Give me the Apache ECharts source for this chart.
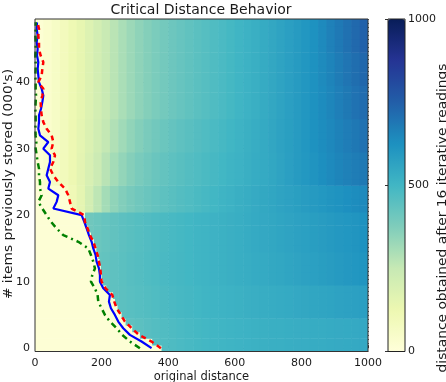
<!DOCTYPE html>
<html><head><meta charset="utf-8">
<script src="https://cdn.jsdelivr.net/npm/echarts@6/dist/echarts.min.js"></script>
<style>html,body{margin:0;padding:0;background:#fff}#c{width:446px;height:382px}</style>
</head><body><div id="c"></div>
<script>
// ---- data ----
const rows = [0,1,2,3,4,5,6,7,8,9,10,11,12,13,14,15,16,17,18,19,20,21,22,23,24,25,26,27,28,29,30,31,32,33,34,35,36,37,38,39,40,41,42,43,44,45,46,47,48,49];
const blueDist  = [350,320,285,265,250,240,228,222,225,205,195,195,192,185,182,175,170,162,155,148,140,55,65,70,40,45,35,40,45,45,25,40,15,10,12,12,18,22,25,20,12,10,8,10,6,8,5,8,5,6];
const redDist   = [378,350,312,290,270,258,245,238,232,212,200,198,196,192,188,182,175,165,158,150,148,110,105,100,90,70,55,45,55,60,50,55,50,35,25,20,18,17,22,25,10,20,22,25,17,12,12,10,12,8];
const greenDist = [315,285,262,245,225,210,200,190,188,180,168,172,180,175,168,160,130,85,65,48,35,22,10,20,15,15,12,12,8,5,2,4,2,1,2,2,1,2,3,2,2,1,2,2,1,2,2,1,2,2];
// where the pale (near-zero) region ends in each row of the heat map
const paleEdge  = [380,352,315,292,272,260,248,240,234,214,204,200,198,194,190,184,177,168,160,152,150,110,105,100,90,0,0,0,0,0,0,0,0,0,0,0,0,0,0,0,0,0,0,0,0,0,0,0,0,0];
const paleValue = 12;
// heat map column starts (original distance, width 25); row bands and their values right of the pale edge
const colStarts = [0,25,50,75,100,125,150,175,200,225,250,275,300,325,350,375,400,425,450,475,500,525,550,575,600,625,650,675,700,725,750,775,800,825,850,875,900,925,950,975];
const colWidth = 25;
const bandFirstRow = [0,5,10,15,21,25,30,35,40,45];
const bandValues = [
  [430,430,430,430,430,430,430,430,430,430,430,438,446,454,461,468,474,480,486,491,496,500,504,508,511,514,517,520,523,525,527,529,531,533,535,537,539,541,543,546],
  [435,435,435,435,435,435,435,435,435,440,446,452,458,464,470,476,482,487,492,497,502,506,510,514,518,522,526,530,534,538,542,546,550,554,558,562,566,570,574,578],
  [425,425,425,425,425,425,425,425,432,440,448,455,462,469,475,481,487,492,497,502,507,512,517,522,527,532,537,542,547,552,558,564,570,576,582,588,594,600,606,612],
  [405,405,405,405,405,405,405,415,425,434,443,451,459,466,473,479,485,491,497,502,507,512,517,522,528,534,540,546,552,558,564,570,576,582,588,594,600,606,612,620],
  [20,35,50,70,105,150,210,265,310,345,370,390,405,418,430,441,451,461,470,479,488,497,506,515,523,531,539,547,555,563,571,579,587,595,603,611,619,627,634,642],
  [20,40,62,90,120,155,195,235,275,310,340,365,385,402,417,430,441,451,461,470,479,488,497,506,515,524,533,542,551,564,577,590,603,616,629,642,654,665,675,685],
  [18,38,60,88,118,150,185,220,255,288,318,344,366,385,401,415,428,439,450,460,470,480,490,500,510,520,531,542,553,566,579,592,606,620,634,648,661,674,687,700],
  [18,38,60,86,115,145,178,210,242,272,300,325,347,366,383,398,412,424,436,447,458,469,480,491,502,513,525,537,550,563,577,591,606,621,637,653,669,685,700,715],
  [18,38,60,86,115,145,178,210,242,272,300,325,347,366,383,398,412,424,436,447,458,469,480,491,502,513,525,537,550,563,577,591,606,622,640,658,676,694,711,728],
  [18,38,60,86,115,145,178,210,242,272,300,325,347,366,383,398,412,424,436,447,458,469,480,491,502,513,525,537,550,563,577,591,606,623,643,663,683,703,722,742]
];
const colorTicks = [0, 500, 1000];
const ylgnbu = ['#ffffd9','#edf8b1','#c7e9b4','#7fcdbb','#41b6c4','#1d91c0','#225ea8','#253494','#081d58'];

// ---- build cells ----
const bandOf = r => { let b = 0; bandFirstRow.forEach((s, k) => { if (r >= s) b = k; }); return b; };
const cells = [];
rows.forEach((r, i) => {
  const edge = paleEdge[i];
  if (edge > 0) cells.push([0, edge, r, paleValue]);
  const vals = bandValues[bandOf(r)];
  colStarts.forEach((s, c) => {
    const e = s + colWidth;
    if (e <= edge) return;
    cells.push([Math.max(s, edge), e, r, vals[c]]);
  });
});
const pairs = arr => arr.map((v, i) => [v, rows[i]]);

const FONT = 'DejaVu Sans';
const INK = '#1a1a1a';
const chart = echarts.init(document.getElementById('c'), null, {renderer: 'canvas'});
chart.setOption({
  animation: false,
  backgroundColor: '#fff',
  textStyle: {fontFamily: FONT},
  grid: [
    {left: 35, top: 19, width: 333, height: 332.5, outerBoundsMode: 'none', containLabel: false,
     show: true, borderColor: '#333', borderWidth: 1, backgroundColor: 'transparent', z: 5},
    {left: 388, top: 19, width: 17, height: 332.5, outerBoundsMode: 'none', containLabel: false,
     show: true, borderColor: '#222', borderWidth: 1, backgroundColor: 'transparent', z: 10}
  ],
  xAxis: [
    {gridIndex: 0, type: 'value', min: 0, max: 1000, interval: 200,
     name: 'original distance', nameLocation: 'middle', nameGap: 20, nameMoveOverlap: false,
     nameTextStyle: {fontFamily: FONT, fontSize: 11.5, color: INK},
     axisLine: {show: false}, axisTick: {show: true, inside: true, length: 3, lineStyle: {color: '#333'}},
     axisLabel: {fontFamily: FONT, fontSize: 11, color: INK, margin: 6, formatter: v => String(v)},
     splitLine: {show: true, lineStyle: {color: 'rgba(30,30,30,0.75)', type: [1, 3], width: 1}}},
    {gridIndex: 1, type: 'value', show: false, min: 0, max: 1}
  ],
  yAxis: [
    {gridIndex: 0, type: 'value', min: -0.5, max: 49.5, splitNumber: 5,
     axisLine: {show: false}, axisTick: {show: true, inside: true, length: 3, lineStyle: {color: '#333'}},
     axisLabel: {fontFamily: FONT, fontSize: 11, color: INK, margin: 5, showMinLabel: false, showMaxLabel: false, formatter: v => String(v)},
     splitLine: {show: true, lineStyle: {color: 'rgba(30,30,30,0.75)', type: [1, 3], width: 1}}},
    {gridIndex: 1, type: 'value', min: 0, max: 1000, interval: 500, position: 'right',
     axisLine: {show: false}, axisTick: {show: true, inside: true, length: 3, lineStyle: {color: '#333'}},
     axisLabel: {fontFamily: FONT, fontSize: 11, color: INK, margin: 3, formatter: v => colorTicks.includes(v) ? String(v) : ''},
     splitLine: {show: false}}
  ],
  visualMap: {
    type: 'continuous', min: 0, max: 1000, seriesIndex: 0, dimension: 3,
    calculable: false, show: true, left: 388, top: 19, itemWidth: 17, itemHeight: 332.5,
    padding: 0, text: null, showLabel: false, inRange: {color: ylgnbu}
  },
  graphic: [
    {type: 'text', x: 201, y: 10, z: 100,
     style: {text: 'Critical Distance Behavior', fontFamily: FONT, fontSize: 14, fill: INK, align: 'center', verticalAlign: 'middle'}},
    {type: 'text', x: 9, y: 184, rotation: Math.PI / 2, scaleX: 1.2, z: 100,
     style: {text: "# items previously stored (000's)", fontFamily: FONT, fontSize: 11.5, fill: INK, align: 'center', verticalAlign: 'middle'}},
    {type: 'text', x: 443.5, y: 218, rotation: Math.PI / 2, scaleX: 1.2, z: 100,
     style: {text: 'distance obtained after 16 iterative readings', fontFamily: FONT, fontSize: 11.5, fill: INK, align: 'center', verticalAlign: 'middle'}}
  ],
  series: [
    {type: 'custom', xAxisIndex: 0, yAxisIndex: 0, clip: true, z: 1,
     encode: {x: [0, 1], y: 2},
     data: cells,
     renderItem: (params, api) => {
       const p0 = api.coord([api.value(0), api.value(2) + 0.5]);
       const p1 = api.coord([api.value(1), api.value(2) - 0.5]);
       return {type: 'rect', shape: {x: p0[0], y: p0[1], width: p1[0] - p0[0] + 0.6, height: p1[1] - p0[1] + 0.6},
         style: {fill: api.visual('color')}};
     }},
    {type: 'line', name: 'blue', data: pairs(blueDist), showSymbol: false, z: 3,
     lineStyle: {color: '#0000ff', width: 2.2}},
    {type: 'line', name: 'red', data: pairs(redDist), showSymbol: false, z: 3,
     lineStyle: {color: '#ff0000', width: 2.5, type: [5, 4]}},
    {type: 'line', name: 'green', data: pairs(greenDist), showSymbol: false, z: 3,
     lineStyle: {color: '#008000', width: 2.5, type: [6, 4, 2, 4]}}
  ]
});
</script></body></html>
